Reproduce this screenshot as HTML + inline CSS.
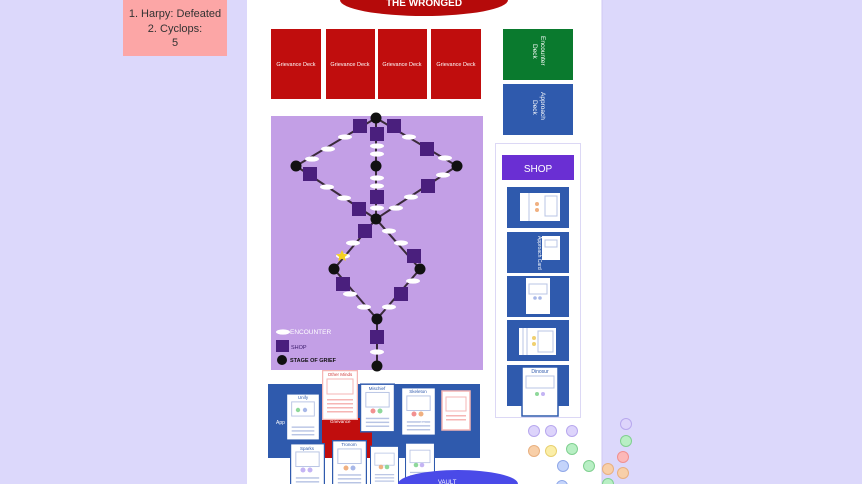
<!DOCTYPE html>
<html><head><meta charset="utf-8"><style>
html,body{margin:0;padding:0;width:862px;height:484px;overflow:hidden;background:#dcd8fb;font-family:"Liberation Sans",sans-serif}
svg{display:block}
</style></head><body>
<svg width="862" height="484" viewBox="0 0 862 484" xmlns="http://www.w3.org/2000/svg" font-family="Liberation Sans, sans-serif">
<defs>
<symbol id="card" viewBox="0 0 36 50">
<rect x="0.5" y="0.5" width="35" height="49" fill="#fff" stroke="#2f5aad" stroke-width="1.5"/>
<rect x="6" y="9" width="24" height="15" fill="none" stroke="#b8c4e4" stroke-width="1"/>
<rect x="6" y="35" width="24" height="1.5" fill="#b8c4e4"/>
<rect x="6" y="39" width="24" height="1.5" fill="#b8c4e4"/>
<rect x="6" y="43" width="24" height="1.5" fill="#b8c4e4"/>
</symbol>
<symbol id="pcard" viewBox="0 0 36 50">
<rect x="0.5" y="0.5" width="35" height="49" fill="#fff" stroke="#f6b6b4" stroke-width="1.5"/>
<rect x="5" y="9" width="26" height="15" fill="none" stroke="#f6b6b4" stroke-width="1"/>
<rect x="5" y="29" width="26" height="1.5" fill="#f6b6b4"/>
<rect x="5" y="33" width="26" height="1.5" fill="#f6b6b4"/>
<rect x="5" y="37" width="26" height="1.5" fill="#f6b6b4"/>
<rect x="5" y="41" width="26" height="1.5" fill="#f6b6b4"/>
</symbol>
<ellipse id="enc" rx="7" ry="2.6" fill="#fff"/>
<rect id="shp" x="-7" y="-7" width="14" height="14" fill="#4a1f7d"/>
<circle id="nd" r="5.5" fill="#111"/>
</defs>

<!-- sticky -->
<rect x="123" y="0" width="104" height="56" fill="#fca6a6"/>
<g font-size="11" fill="#333" text-anchor="middle">
<text x="175" y="17">1. Harpy: Defeated</text>
<text x="175" y="32">2. Cyclops:</text>
<text x="175" y="46">5</text>
</g>

<!-- white panel -->
<rect x="247" y="0" width="355" height="484" fill="#fff"/>
<line x1="602" y1="0" x2="602" y2="484" stroke="#cfc8f3"/>

<ellipse cx="424" cy="0" rx="84" ry="16" fill="#b50a0a"/>
<text x="424" y="6" font-size="10" font-weight="bold" fill="#fff" text-anchor="middle">THE WRONGED</text>

<g fill="#c00d0d">
<rect x="271" y="29" width="50" height="70"/>
<rect x="326" y="29" width="49" height="70"/>
<rect x="378" y="29" width="49" height="70"/>
<rect x="431" y="29" width="50" height="70"/>
</g>
<g font-size="5.5" fill="#fff" text-anchor="middle">
<text x="296" y="66">Grievance Deck</text>
<text x="350" y="66">Grievance Deck</text>
<text x="402" y="66">Grievance Deck</text>
<text x="456" y="66">Grievance Deck</text>
</g>
<rect x="503" y="29" width="70" height="51" fill="#0a7a2e"/>
<rect x="503" y="84" width="70" height="51" fill="#2f5aad"/>
<text transform="translate(541,36) rotate(90)" font-size="6.5" fill="#fff">Encounter</text>
<text transform="translate(533,44) rotate(90)" font-size="6.5" fill="#fff">Deck</text>
<text transform="translate(541,92) rotate(90)" font-size="6.5" fill="#fff">Approach</text>
<text transform="translate(533,100) rotate(90)" font-size="6.5" fill="#fff">Deck</text>

<!-- map -->
<rect x="271" y="116" width="212" height="254" fill="#c39fe6"/>
<g stroke="#3a2a3a" stroke-width="2" fill="none">
<polyline points="376,118 296,166 376,219 457,166 376,118"/>
<line x1="376" y1="118" x2="376" y2="219"/>
<polyline points="376,219 334,269 377,319 420,269 376,219"/>
<line x1="377" y1="319" x2="377" y2="366"/>
</g>
<g>
<use href="#enc" x="345" y="137"/><use href="#enc" x="328" y="149"/><use href="#enc" x="312" y="159"/>
<use href="#enc" x="327" y="187"/><use href="#enc" x="344" y="198"/>
<use href="#enc" x="377" y="146"/><use href="#enc" x="377" y="154"/><use href="#enc" x="377" y="178"/><use href="#enc" x="377" y="186"/><use href="#enc" x="377" y="208"/>
<use href="#enc" x="409" y="137"/><use href="#enc" x="445" y="158"/><use href="#enc" x="443" y="175"/><use href="#enc" x="411" y="197"/><use href="#enc" x="396" y="208"/>
<use href="#enc" x="353" y="243"/><use href="#enc" x="343" y="256"/><use href="#enc" x="350" y="294"/><use href="#enc" x="364" y="307"/>
<use href="#enc" x="389" y="231"/><use href="#enc" x="401" y="243"/><use href="#enc" x="413" y="281"/><use href="#enc" x="389" y="307"/>
<use href="#enc" x="377" y="352"/>
<use href="#shp" x="360" y="126"/><use href="#shp" x="394" y="126"/><use href="#shp" x="377" y="134"/>
<use href="#shp" x="310" y="174"/><use href="#shp" x="359" y="209"/><use href="#shp" x="377" y="197"/>
<use href="#shp" x="427" y="149"/><use href="#shp" x="428" y="186"/>
<use href="#shp" x="365" y="231"/><use href="#shp" x="343" y="284"/><use href="#shp" x="414" y="256"/><use href="#shp" x="401" y="294"/>
<use href="#shp" x="377" y="337"/>
<use href="#nd" x="376" y="118"/><use href="#nd" x="296" y="166"/><use href="#nd" x="376" y="166"/><use href="#nd" x="457" y="166"/>
<use href="#nd" x="376" y="219"/><use href="#nd" x="334" y="269"/><use href="#nd" x="420" y="269"/><use href="#nd" x="377" y="319"/><use href="#nd" x="377" y="366"/>
</g>
<polygon points="342,250 343.8,254 348,254.3 344.8,257 345.8,261 342,258.8 338.2,261 339.2,257 336,254.3 340.2,254" fill="#f5d020"/>
<ellipse cx="283" cy="332" rx="7" ry="2.6" fill="#fff"/>
<text x="290" y="334" font-size="6.5" fill="#fff">ENCOUNTER</text>
<rect x="276" y="340" width="13" height="12" fill="#4a1f7d"/>
<text x="291" y="349" font-size="5.5" fill="#3a1a6a">SHOP</text>
<circle cx="282" cy="360" r="5" fill="#111"/>
<text x="290" y="362" font-size="5.5" fill="#111" font-weight="bold">STAGE OF GRIEF</text>

<!-- shop panel -->
<rect x="495.5" y="143.5" width="85" height="274" fill="#fff" stroke="#dcd8f5"/>
<rect x="502" y="155" width="72" height="25" fill="#6a2fd3"/>
<text x="538" y="172" font-size="10" fill="#fff" text-anchor="middle">SHOP</text>
<g fill="#2f5aad">
<rect x="507" y="187" width="62" height="41"/>
<rect x="507" y="232" width="62" height="41"/>
<rect x="507" y="276" width="62" height="41"/>
<rect x="507" y="320" width="62" height="41"/>
<rect x="507" y="365" width="62" height="41"/>
</g>
<rect x="520" y="193" width="40" height="28" fill="#fff"/>
<line x1="529" y1="193" x2="529" y2="221" stroke="#b8c4e4"/>
<rect x="545" y="196" width="12" height="20" fill="none" stroke="#b8c4e4"/>
<circle cx="537" cy="204" r="2" fill="#f0b080"/><circle cx="537" cy="210" r="2" fill="#f0b080"/>
<rect x="542" y="236" width="18" height="24" fill="#fff"/>
<rect x="545" y="240" width="12" height="7" fill="none" stroke="#b8c4e4"/>
<text transform="translate(538,236) rotate(90)" font-size="5" fill="#fff">Approach Card</text>
<rect x="526" y="278" width="24" height="36" fill="#fff"/>
<rect x="529" y="284" width="18" height="10" fill="none" stroke="#b8c4e4"/>
<circle cx="535" cy="298" r="1.8" fill="#a8b8e8"/><circle cx="540" cy="298" r="1.8" fill="#a8b8e8"/>
<rect x="519" y="328" width="37" height="27" fill="#fff"/>
<line x1="523" y1="328" x2="523" y2="355" stroke="#b8c4e4"/><line x1="527" y1="328" x2="527" y2="355" stroke="#b8c4e4"/>
<rect x="538" y="331" width="15" height="21" fill="none" stroke="#b8c4e4"/>
<circle cx="534" cy="338" r="2" fill="#f0d070"/><circle cx="534" cy="344" r="2" fill="#f0d070"/>
<rect x="522" y="367" width="36" height="49" fill="#fff" stroke="#2f5aad" stroke-width="1.5"/>
<text x="540" y="373" font-size="5" fill="#2f5aad" text-anchor="middle">Dinosur</text>
<rect x="526" y="376" width="28" height="12" fill="none" stroke="#b8c4e4"/>
<circle cx="537" cy="394" r="2" fill="#8ed89a"/><circle cx="543" cy="394" r="2" fill="#c4b4f4"/>

<!-- bottom cards area -->
<rect x="268" y="384" width="212" height="74" fill="#2f5aad"/>
<rect x="322" y="418" width="50" height="40" fill="#c00d0d"/>
<text x="276" y="424" font-size="5" fill="#fff">App</text>
<use href="#card" x="286" y="393" width="34" height="48"/>
<text x="303" y="399" font-size="4.5" fill="#2f5aad" text-anchor="middle">Unify</text>
<circle cx="298" cy="410" r="2.2" fill="#8ed89a"/><circle cx="305" cy="410" r="2.2" fill="#a8b8e8"/>
<use href="#pcard" x="322" y="370" width="36" height="50"/>
<text x="340" y="376" font-size="4.5" fill="#d04040" text-anchor="middle">Other Minds</text>
<use href="#card" x="360" y="383" width="35" height="50"/>
<text x="377" y="390" font-size="4.5" fill="#2f5aad" text-anchor="middle">Mischief</text>
<circle cx="373" cy="411" r="2.5" fill="#f29090"/><circle cx="380" cy="411" r="2.5" fill="#8ed89a"/>
<use href="#card" x="401" y="387" width="35" height="49"/>
<text x="418" y="393" font-size="4.5" fill="#2f5aad" text-anchor="middle">Skeleton</text>
<circle cx="414" cy="414" r="2.5" fill="#f29090"/><circle cx="421" cy="414" r="2.5" fill="#f0b080"/>
<rect x="442" y="391" width="28" height="39" fill="#fff" stroke="#f6b6b4" stroke-width="1.5"/>
<rect x="446" y="397" width="20" height="14" fill="none" stroke="#f6b6b4"/>
<rect x="446" y="415" width="20" height="1.5" fill="#f6b6b4"/><rect x="446" y="419" width="20" height="1.5" fill="#f6b6b4"/>
<text x="420" y="424" font-size="4" fill="#fff">Ap</text>
<text x="330" y="423" font-size="4.5" fill="#fff">Grievance</text>
<use href="#card" x="290" y="443" width="35" height="49"/>
<text x="307" y="450" font-size="4.5" fill="#2f5aad" text-anchor="middle">Sparks</text>
<circle cx="303" cy="470" r="2.5" fill="#c4b4f4"/><circle cx="310" cy="470" r="2.5" fill="#c4b4f4"/>
<use href="#card" x="332" y="440" width="35" height="49"/>
<text x="349" y="446" font-size="4.5" fill="#2f5aad" text-anchor="middle">Tronom</text>
<circle cx="346" cy="468" r="2.5" fill="#f0b080"/><circle cx="353" cy="468" r="2.5" fill="#a8b8e8"/>
<use href="#card" x="370" y="445" width="29" height="42"/>
<circle cx="381" cy="467" r="2.3" fill="#f0b080"/><circle cx="387" cy="467" r="2.3" fill="#8ed89a"/>
<use href="#card" x="405" y="441" width="30" height="45"/>
<circle cx="416" cy="465" r="2.3" fill="#8ed89a"/><circle cx="422" cy="465" r="2.3" fill="#c4b4f4"/>
<ellipse cx="458" cy="484" rx="60" ry="14" fill="#4a4ae8"/>
<text x="438" y="484" font-size="6" fill="#fff">VAULT</text>

<!-- dots -->
<g stroke-width="1">
<circle cx="534" cy="431" r="5.5" fill="#ddd4fb" stroke="#b8a8ee"/>
<circle cx="551" cy="431" r="5.5" fill="#ddd4fb" stroke="#b8a8ee"/>
<circle cx="572" cy="431" r="5.5" fill="#ddd4fb" stroke="#b8a8ee"/>
<circle cx="626" cy="424" r="5.5" fill="#ddd4fb" stroke="#b8a8ee"/>
<circle cx="534" cy="451" r="5.5" fill="#f8cfa8" stroke="#e8b080"/>
<circle cx="551" cy="451" r="5.5" fill="#fbeea8" stroke="#e8d070"/>
<circle cx="572" cy="449" r="5.5" fill="#b8efc4" stroke="#80d090"/>
<circle cx="626" cy="441" r="5.5" fill="#b8efc4" stroke="#80d090"/>
<circle cx="623" cy="457" r="5.5" fill="#fcb8b8" stroke="#f09090"/>
<circle cx="563" cy="466" r="5.5" fill="#c4d4fb" stroke="#90a8e8"/>
<circle cx="589" cy="466" r="5.5" fill="#b8efc4" stroke="#80d090"/>
<circle cx="608" cy="469" r="5.5" fill="#f8cfa8" stroke="#e8b080"/>
<circle cx="623" cy="473" r="5.5" fill="#f8cfa8" stroke="#e8b080"/>
<circle cx="608" cy="484" r="5.5" fill="#b8efc4" stroke="#80d090"/>
<circle cx="562" cy="486" r="5.5" fill="#c4d4fb" stroke="#90a8e8"/>
</g>
</svg>
</body></html>
